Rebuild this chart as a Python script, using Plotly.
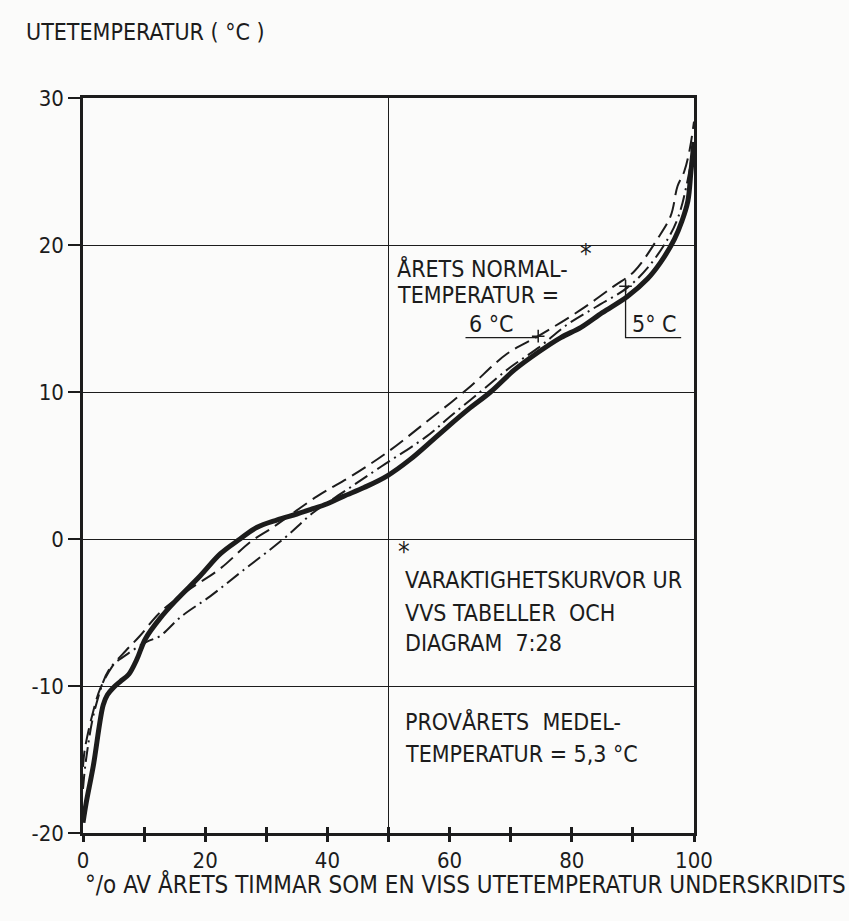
import plotly.graph_objects as go

# --- data ---
# thick solid: test year (mean 5.3 °C)
test_x = [0, 0.5, 1.7, 3.3, 4.0, 5.0, 6.1, 7.5, 8.8, 10.2, 12.6, 15.4, 19.2, 22.5, 25.7,
          28.5, 31.8, 35, 37.2, 40, 42.6, 46, 49.8, 53.5, 57.4, 59.6, 63, 66.7, 70.6,
          74.5, 78.2, 81.5, 85, 89.1, 92.4, 94.5, 96.8, 98, 99, 99.5, 100]
test_y = [-19.3, -18, -15.4, -11.3, -10.6, -10.1, -9.7, -9.2, -8.2, -6.8, -5.4, -4.1, -2.5,
          -1.0, 0.0, 0.8, 1.3, 1.7, 2.0, 2.4, 2.9, 3.5, 4.3, 5.4, 6.8, 7.6, 8.8, 10.0, 11.5,
          12.7, 13.7, 14.4, 15.4, 16.5, 17.7, 18.8, 20.4, 21.6, 23, 25, 27]

# dashed: normal year 6 °C
n6_x = [0, 0.3, 1.5, 2.8, 4.9, 7, 9.3, 12.6, 17.5, 22.5, 27.4, 31.1, 38.3, 44, 49.8, 56,
        62.9, 69.4, 74.5, 81.5, 86.9, 90.2, 94, 96.2, 97.3, 98.4, 99.3, 100]
n6_y = [-15.5, -14.3, -12, -10.2, -8.6, -7.6, -6.6, -5.0, -3.4, -2.0, -0.2, 0.8, 2.9, 4.3,
        5.9, 7.9, 10.2, 12.6, 13.8, 15.6, 17.2, 18.2, 20.4, 22.0, 24.0, 25.0, 26.5, 28.4]

# dash-dot: normal year 5 °C
n5_x = [0, 0.5, 2, 4.4, 7, 10.4, 12.6, 16, 20.8, 26, 32.8, 37.7, 43, 48.7, 56.3, 60, 65,
        70, 74.5, 79.3, 84, 89.1, 92.5, 95.7, 97.5, 99, 100]
n5_y = [-17, -15, -11.5, -8.8, -7.9, -7.0, -6.6, -5.3, -3.9, -2.2, 0.0, 1.8, 3.3, 4.9, 7.0,
        8.3, 10.0, 11.7, 13.0, 14.6, 15.8, 17.1, 18.5, 20.4, 22.0, 24.5, 27]

# marked points and leader lines for the labels "6 °C" and "5 °C"
mark_x = [74.5, 88.8]
mark_y = [13.8, 17.2]
lead6_x = [62.6, 74.5]
lead6_y = [13.7, 13.7]
lead5_x = [88.8, 88.8, 97.9]
lead5_y = [17.2, 13.7, 13.7]

x_ticks = [0, 20, 40, 60, 80, 100]
y_ticks = [-20, -10, 0, 10, 20, 30]

INK = "#1c1c1c"
FONT = "DejaVu Sans Condensed, Liberation Sans Narrow, DejaVu Sans, sans-serif"

fig = go.Figure()
fig.add_trace(go.Scatter(x=n6_x, y=n6_y, mode="lines", line=dict(color=INK, width=2, dash="16px,7px"),
                         line_shape="spline", hoverinfo="skip"))
fig.add_trace(go.Scatter(x=n5_x, y=n5_y, mode="lines",
                         line=dict(color=INK, width=2, dash="15px,5px,2px,5px"),
                         line_shape="spline", hoverinfo="skip"))
fig.add_trace(go.Scatter(x=test_x, y=test_y, mode="lines", line=dict(color=INK, width=5),
                         line_shape="spline", hoverinfo="skip"))
fig.add_trace(go.Scatter(x=lead6_x, y=lead6_y, mode="lines", line=dict(color=INK, width=1.3),
                         hoverinfo="skip"))
fig.add_trace(go.Scatter(x=lead5_x, y=lead5_y, mode="lines", line=dict(color=INK, width=1.3),
                         hoverinfo="skip"))
fig.add_trace(go.Scatter(x=mark_x, y=mark_y, mode="markers",
                         marker=dict(symbol="cross-thin", size=9, line=dict(color=INK, width=1.5)),
                         hoverinfo="skip"))
# overlay axis for the inward half of the x tick marks
fig.add_trace(go.Scatter(x=[0, 100], y=[-20, -20], xaxis="x2", mode="lines",
                         line=dict(width=0), hoverinfo="skip"))

fig.add_vline(x=50, line=dict(color=INK, width=1))

def txt(x, y, s, ref="data", size=23):
    fig.add_annotation(x=x, y=y, text=s, showarrow=False, xanchor="left", yanchor="middle",
                       xref="x" if ref == "data" else "paper",
                       yref="y" if ref == "data" else "paper",
                       font=dict(family=FONT, size=size, color=INK))

txt(51.1, 18.4, "ÅRETS NORMAL-")
txt(51.1, 16.6, "TEMPERATUR =")
txt(81.0, 19.4, "*", size=26)
txt(62.8, 14.6, "6 °C")
txt(89.5, 14.6, "5° C")
txt(51.2, -0.9, "*", size=26)
txt(52.4, -2.8, "VARAKTIGHETSKURVOR UR")
txt(52.4, -5.0, "VVS TABELLER  OCH")
txt(52.4, -7.1, "DIAGRAM  7:28")
txt(52.4, -12.4, "PROVÅRETS  MEDEL-")
txt(52.4, -14.6, "TEMPERATUR = 5,3 °C")
txt(-0.0966, 1.0898, "UTETEMPERATUR ( °C )", ref="paper")
txt(0.0, -0.0694, "°/o AV ÅRETS TIMMAR SOM EN VISS UTETEMPERATUR UNDERSKRIDITS", ref="paper", size=24)

fig.update_layout(
    width=849, height=921,
    margin=dict(l=83, r=155, t=98, b=88),
    paper_bgcolor="#fbfbfa", plot_bgcolor="#fbfbfa",
    showlegend=False,
    font=dict(family=FONT, size=22, color=INK),
    xaxis=dict(range=[0, 100], showgrid=False, zeroline=False,
               showline=True, linewidth=2.5, linecolor=INK, mirror=True,
               ticks="outside", ticklen=6, tickwidth=2.5, tickcolor=INK,
               tickvals=list(range(0, 101, 10)),
               ticktext=[str(v) if v in x_ticks else "" for v in range(0, 101, 10)],
               tickfont=dict(family=FONT, size=22, color=INK)),
    xaxis2=dict(range=[0, 100], overlaying="x", side="bottom", showgrid=False, zeroline=False,
                showline=False, ticks="inside", ticklen=6, tickwidth=2.5, tickcolor=INK,
                tickvals=list(range(0, 101, 10)), showticklabels=False),
    yaxis=dict(range=[-20, 30], zeroline=False,
               showgrid=True, gridcolor=INK, gridwidth=1,
               showline=True, linewidth=2.5, linecolor=INK, mirror=True,
               ticks="outside", ticklen=12, tickwidth=2, tickcolor=INK,
               tickvals=y_ticks, ticktext=[str(v) for v in y_ticks],
               tickfont=dict(family=FONT, size=22, color=INK)),
)

fig.write_html("out.html")
